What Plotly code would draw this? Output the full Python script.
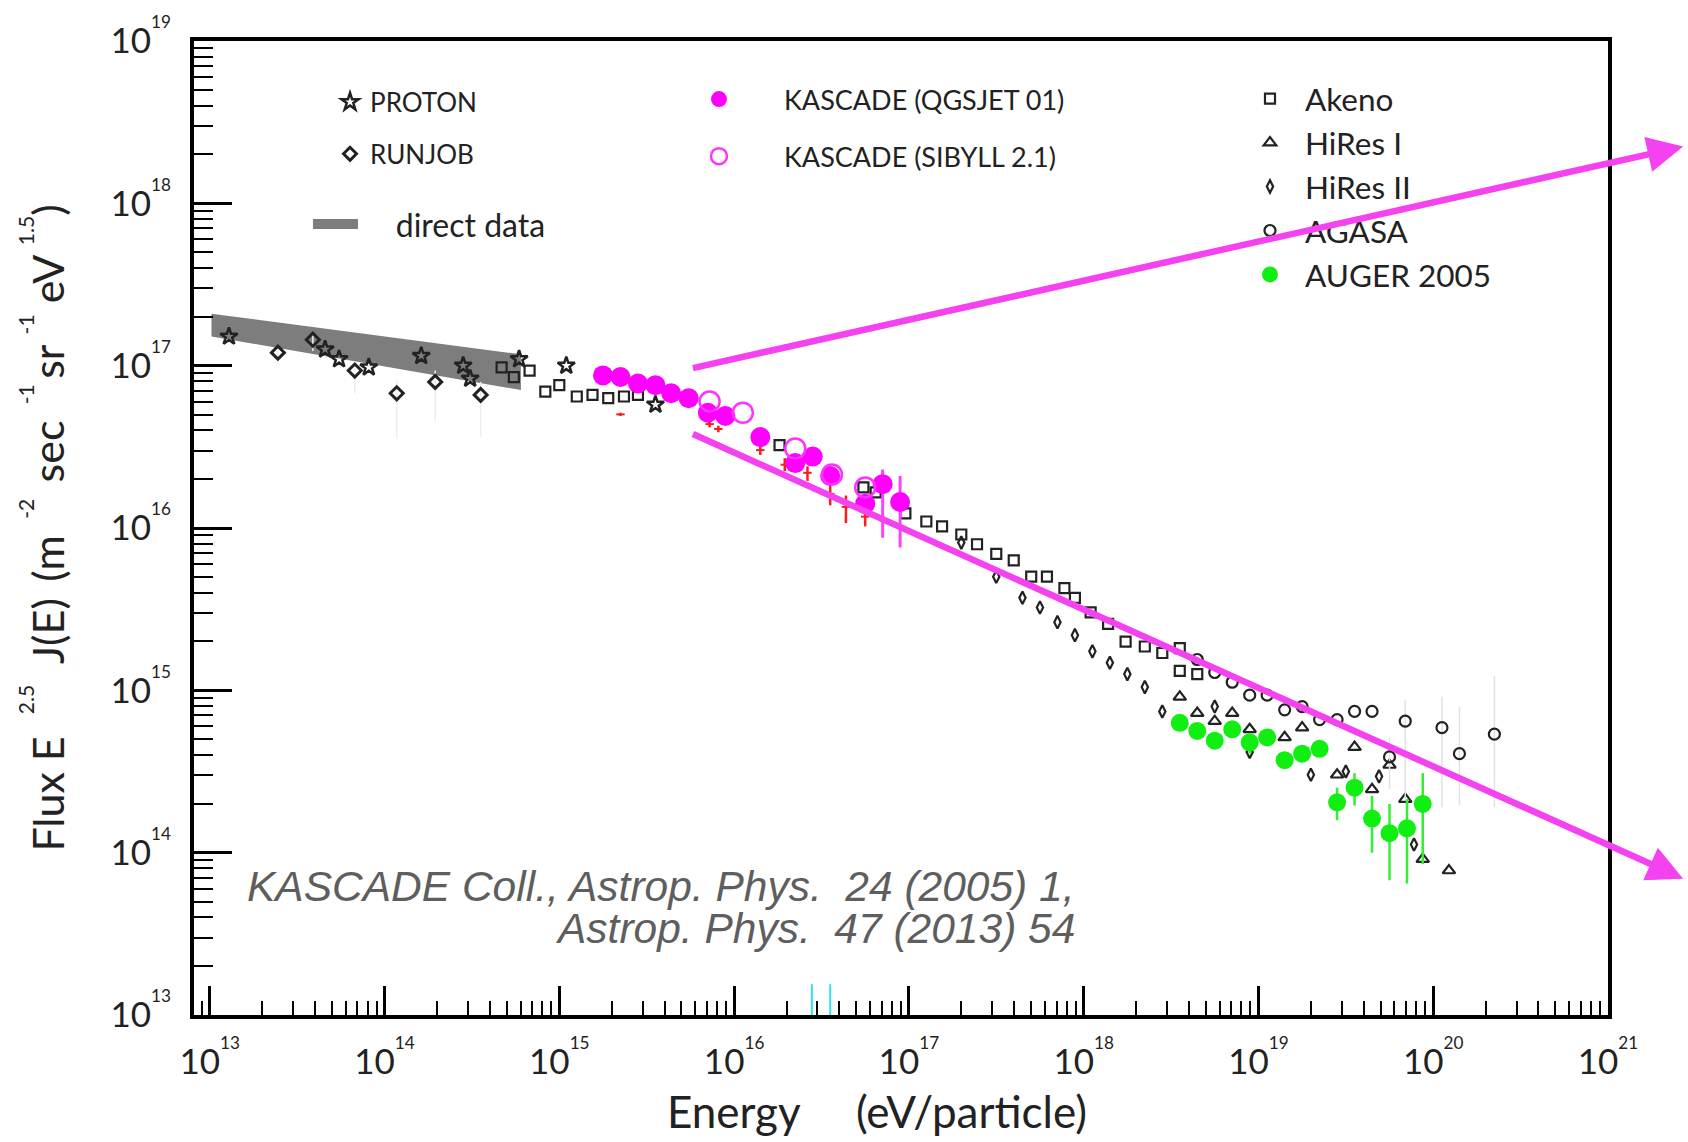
import math
import plotly.graph_objects as go

# ---------------- data (log10 values) ----------------
band_logE = [13.01, 14.78, 14.78, 13.01]
band_logF = [17.32, 17.07, 16.85, 17.18]

proton_logE = [13.11, 13.66, 13.74, 13.91, 14.21, 14.45, 14.49, 14.77, 15.04, 15.55]
proton_logF = [17.18, 17.10, 17.04, 16.99, 17.06, 17.00, 16.92, 17.04, 17.00, 16.76]

runjob_logE = [13.39, 13.59, 13.83, 14.07, 14.29, 14.55]
runjob_logF = [17.08, 17.16, 16.97, 16.83, 16.90, 16.82]
runjob_up = [0.04, 0.04, 0.05, 0.08, 0.07, 0.08]
runjob_dn = [0.07, 0.07, 0.14, 0.28, 0.24, 0.26]

akeno_logE = [14.67, 14.74, 14.83, 14.92, 15.00, 15.10, 15.19, 15.28, 15.37, 15.45,
              16.26, 16.74, 16.81, 16.98, 17.10, 17.19, 17.30, 17.39, 17.50, 17.60,
              17.70, 17.79, 17.89, 17.95, 18.04, 18.14, 18.24, 18.35, 18.45, 18.55,
              18.55, 18.65]
akeno_logF = [16.99, 16.93, 16.97, 16.84, 16.88, 16.81, 16.82, 16.80, 16.81, 16.82,
              16.51, 16.25, 16.22, 16.09, 16.04, 16.01, 15.96, 15.90, 15.84, 15.80,
              15.70, 15.70, 15.63, 15.57, 15.48, 15.41, 15.30, 15.27, 15.23, 15.26,
              15.12, 15.10]

hires2_logE = [17.30, 17.50, 17.65, 17.75, 17.85, 17.95, 18.05, 18.15, 18.25, 18.35,
               18.45, 18.75, 18.95, 19.30, 19.50, 19.69, 19.89]
hires2_logF = [15.91, 15.70, 15.57, 15.51, 15.42, 15.34, 15.24, 15.17, 15.10, 15.02,
               14.87, 14.90, 14.62, 14.48, 14.50, 14.47, 14.05]

hires1_logE = [18.55, 18.65, 18.75, 18.85, 18.95, 19.15, 19.25, 19.45, 19.55, 19.65,
               19.75, 19.84, 19.94, 20.09]
hires1_logF = [14.96, 14.86, 14.81, 14.86, 14.76, 14.71, 14.77, 14.48, 14.65, 14.39,
               14.54, 14.33, 13.96, 13.89]

agasa_logE = [18.65, 18.75, 18.85, 18.95, 19.05, 19.15, 19.25, 19.35, 19.45, 19.55,
              19.65, 19.75, 19.84, 20.05, 20.15, 20.35]
agasa_logF = [15.19, 15.11, 15.05, 14.97, 14.97, 14.88, 14.90, 14.82, 14.82, 14.87,
              14.87, 14.59, 14.81, 14.77, 14.61, 14.73]
agasa_up = [0, 0, 0, 0, 0, 0, 0, 0, 0, 0, 0, 0.12, 0.13, 0.19, 0.29, 0.36]
agasa_dn = [0, 0, 0, 0, 0, 0, 0, 0, 0, 0, 0, 0.20, 0.48, 0.49, 0.32, 0.45]

auger_logE = [18.55, 18.65, 18.75, 18.85, 18.95, 19.05, 19.15, 19.25, 19.35, 19.45,
              19.55, 19.65, 19.75, 19.85, 19.94]
auger_logF = [14.80, 14.75, 14.69, 14.76, 14.68, 14.71, 14.57, 14.61, 14.64, 14.31,
              14.40, 14.21, 14.12, 14.15, 14.30]
auger_up = [0.02, 0.02, 0.02, 0.02, 0.05, 0.02, 0.03, 0.03, 0.03, 0.09, 0.09, 0.14, 0.18, 0.18, 0.19]
auger_dn = [0.02, 0.02, 0.02, 0.02, 0.07, 0.02, 0.03, 0.03, 0.03, 0.11, 0.11, 0.21, 0.29, 0.34, 0.37]

qgs_logE = [15.25, 15.35, 15.45, 15.55, 15.64, 15.74, 15.85, 15.95, 16.15, 16.35,
            16.45, 16.55, 16.75, 16.85, 16.95]
qgs_logF = [16.94, 16.93, 16.89, 16.88, 16.83, 16.80, 16.71, 16.69, 16.56, 16.40,
            16.44, 16.32, 16.15, 16.27, 16.16]
qgs_up = [0, 0, 0, 0, 0, 0, 0, 0, 0.02, 0.03, 0.03, 0.04, 0.05, 0.09, 0.16]
qgs_dn = [0, 0, 0, 0, 0, 0, 0, 0, 0.02, 0.03, 0.03, 0.04, 0.06, 0.33, 0.28]

sib_logE = [15.86, 16.05, 16.35, 16.56, 16.75]
sib_logF = [16.78, 16.71, 16.49, 16.33, 16.25]

red_logE = [15.35, 15.86, 15.91, 16.15, 16.29, 16.42, 16.55, 16.64, 16.75]
red_logF = [16.70, 16.64, 16.61, 16.48, 16.39, 16.34, 16.21, 16.13, 16.07]
red_up = [0.01, 0.02, 0.02, 0.03, 0.04, 0.04, 0.07, 0.07, 0.05]
red_dn = [0.01, 0.02, 0.02, 0.03, 0.04, 0.05, 0.07, 0.10, 0.06]

cyan_logE = [16.445, 16.55]
cyan_logF_top = [13.19, 13.19]

# arrows (tail -> head), log10 coordinates
arrow_tail_logE = [15.756, 15.756]
arrow_tail_logF = [16.983, 16.583]
arrow_head_logE = [21.43, 21.43]
arrow_head_logF = [18.35, 13.84]

x_decades = list(range(13, 22))
y_decades = list(range(13, 20))
x_range_log = [12.91, 21.0]
y_range_log = [13.0, 19.0]

# ---------------- helpers ----------------
def lin(v):
    return [10.0 ** a for a in v]


def err(logF, up, dn):
    plus = [10.0 ** f * (10.0 ** u - 1) for f, u in zip(logF, up)]
    minus = [10.0 ** f * (1 - 10.0 ** (-d)) for f, d in zip(logF, dn)]
    return plus, minus


FONT = "Lato"
DARK = "#222222"

fig = go.Figure()

# direct-data band
fig.add_trace(go.Scatter(
    x=lin(band_logE), y=lin(band_logF), mode="lines", fill="toself",
    fillcolor="#7d7d7d", line=dict(width=0, color="#7d7d7d"),
    showlegend=False, hoverinfo="skip", name="direct data band"))

# legend-only entry for the band
fig.add_trace(go.Scatter(
    x=[None], y=[None], mode="lines", line=dict(color="#7d7d7d", width=18),
    name="\u00a0\u00a0\u00a0\u00a0direct data", legend="legend2"))

p, m = err(runjob_logF, runjob_up, runjob_dn)
fig.add_trace(go.Scatter(
    x=lin(runjob_logE), y=lin(runjob_logF), mode="markers", name="RUNJOB",
    legend="legend", legendgroup="runjob", legendrank=2,
    marker=dict(symbol="diamond-open", size=10, color=DARK, line=dict(width=3, color=DARK)),
    error_y=dict(type="data", array=p, arrayminus=m, color="#eeeeee", thickness=1.5, width=0)))

fig.add_trace(go.Scatter(
    x=lin(proton_logE), y=lin(proton_logF), mode="markers", name="PROTON",
    legend="legend", legendgroup="proton", legendrank=1,
    marker=dict(symbol="star-open", size=13, color=DARK, line=dict(width=2.5, color=DARK))))

fig.add_trace(go.Scatter(
    x=lin(akeno_logE), y=lin(akeno_logF), mode="markers", name="Akeno",
    legend="legend4", legendrank=1,
    marker=dict(symbol="square-open", size=10, color=DARK, line=dict(width=2.2, color=DARK))))

fig.add_trace(go.Scatter(
    x=lin(hires1_logE), y=lin(hires1_logF), mode="markers", name="HiRes I",
    legend="legend4", legendrank=2,
    marker=dict(symbol="triangle-up-open", size=11, color=DARK, line=dict(width=2.2, color=DARK))))

fig.add_trace(go.Scatter(
    x=lin(hires2_logE), y=lin(hires2_logF), mode="markers", name="HiRes II",
    legend="legend4", legendrank=3,
    marker=dict(symbol="diamond-tall-open", size=9, color=DARK, line=dict(width=2.2, color=DARK))))

p, m = err(agasa_logF, agasa_up, agasa_dn)
fig.add_trace(go.Scatter(
    x=lin(agasa_logE), y=lin(agasa_logF), mode="markers", name="AGASA",
    legend="legend4", legendrank=4,
    marker=dict(symbol="circle-open", size=11, color=DARK, line=dict(width=2.2, color=DARK)),
    error_y=dict(type="data", array=p, arrayminus=m, color="#e2e2e2", thickness=1.5, width=0)))

p, m = err(red_logF, red_up, red_dn)
fig.add_trace(go.Scatter(
    x=lin(red_logE), y=lin(red_logF), mode="markers", showlegend=False,
    marker=dict(symbol="line-ew", size=6, color="#ff1a1a", line=dict(width=2, color="#ff1a1a")),
    error_y=dict(type="data", array=p, arrayminus=m, color="#ff1a1a", thickness=2.5, width=0)))

p, m = err(qgs_logF, qgs_up, qgs_dn)
fig.add_trace(go.Scatter(
    x=lin(qgs_logE), y=lin(qgs_logF), mode="markers", name="KASCADE (QGSJET 01)",
    legend="legend3", legendgroup="qgs", legendrank=1,
    marker=dict(symbol="circle", size=20, color="#ff00ff"),
    error_y=dict(type="data", array=p, arrayminus=m, color="#ff40ff", thickness=3, width=0)))

fig.add_trace(go.Scatter(
    x=lin(sib_logE), y=lin(sib_logF), mode="markers", name="KASCADE (SIBYLL 2.1)",
    legend="legend3", legendgroup="sib", legendrank=2,
    marker=dict(symbol="circle-open", size=20, color="#ff33ff", line=dict(width=2.5, color="#ff33ff"))))

p, m = err(auger_logF, auger_up, auger_dn)
fig.add_trace(go.Scatter(
    x=lin(auger_logE), y=lin(auger_logF), mode="markers", name="AUGER 2005",
    legend="legend4", legendrank=5,
    marker=dict(symbol="circle", size=18, color="#11ee11"),
    error_y=dict(type="data", array=p, arrayminus=m, color="#33ee33", thickness=2.5, width=0)))

# cyan marks near the bottom axis
cx, cy = [], []
for e, t in zip(cyan_logE, cyan_logF_top):
    cx += [10.0 ** e, 10.0 ** e, None]
    cy += [10.0 ** y_range_log[0], 10.0 ** t, None]
fig.add_trace(go.Scatter(x=cx, y=cy, mode="lines", line=dict(color="#33e0f0", width=2),
                         showlegend=False, hoverinfo="skip"))

# ---------------- axes ----------------
def sup_label(d):
    return "10<sup><sup>%d</sup></sup>" % d


x_minor = [k * 10.0 ** d for d in range(12, 21) for k in range(2, 10)
           if x_range_log[0] <= d + math.log10(k) <= x_range_log[1]]
y_minor = [k * 10.0 ** d for d in range(13, 19) for k in range(2, 10)]

axis_common = dict(
    type="log", showgrid=False, zeroline=False, showline=True, linecolor="black",
    linewidth=4, mirror=True, ticks="inside", tickcolor="black", tickwidth=2.5,
    tickfont=dict(family=FONT, size=35, color=DARK), automargin=False,
)

NB = "\u00a0"
TH = "\u2009"

fig.update_xaxes(
    **axis_common, range=x_range_log,
    tickvals=[10.0 ** d for d in x_decades], ticktext=[sup_label(d) for d in x_decades],
    ticklen=29, ticklabelstandoff=13,
    minor=dict(tickvals=x_minor, ticks="inside", ticklen=14, tickwidth=2, tickcolor="black"),
)

ytitle = ("Flux E" + NB * 2 + "<sup><sup>2.5</sup></sup>" + NB * 2 + "J(E)" + NB + TH +
          "(m" + NB + TH + "<sup><sup>-2</sup></sup>" + NB + TH + "sec" + NB + TH +
          "<sup><sup>-1</sup></sup>" + TH + "sr" + NB + "<sup><sup>-1</sup></sup>" + NB +
          "eV" + NB + "<sup><sup>1.5</sup></sup>" + ")")

fig.update_yaxes(
    **axis_common, range=y_range_log,
    tickvals=[10.0 ** d for d in y_decades], ticktext=[sup_label(d) for d in y_decades],
    ticklen=38, ticklabelstandoff=12,
    minor=dict(tickvals=y_minor, ticks="inside", ticklen=19, tickwidth=2, tickcolor="black"),
    title=dict(text=ytitle, font=dict(family=FONT, size=43, color=DARK), standoff=33),
)

# ---------------- annotations ----------------
annotations = []
for tx, ty, hx, hy in zip(arrow_tail_logE, arrow_tail_logF, arrow_head_logE, arrow_head_logF):
    annotations.append(dict(
        x=hx, y=hy, xref="x", yref="y", ax=tx, ay=ty, axref="x", ayref="y",
        text="", showarrow=True, arrowhead=2, arrowsize=1.1, arrowwidth=6.5,
        arrowcolor="#f442f0"))

# x-axis title (placed slightly left of centre, as in the original)
annotations.append(dict(
    text="Energy" + NB * 5 + "(eV/particle)",
    xref="paper", yref="paper", x=0.4827, y=-0.0986, xanchor="center", yanchor="middle",
    showarrow=False, font=dict(family=FONT, size=44, color=DARK)))

cite_font = dict(family="Liberation Sans", size=42.5, color="#5e5e5e")
annotations.append(dict(
    text="<i>KASCADE Coll., Astrop. Phys." + NB * 2 + "24 (2005) 1,</i>",
    xref="paper", yref="paper", x=0.6245, y=0.1324, xanchor="right", yanchor="middle",
    showarrow=False, font=cite_font))
annotations.append(dict(
    text="<i>Astrop. Phys." + NB * 2 + "47 (2013) 54</i>",
    xref="paper", yref="paper", x=0.6245, y=0.0893, xanchor="right", yanchor="middle",
    showarrow=False, font=cite_font))

leg_common = dict(bgcolor="rgba(0,0,0,0)", borderwidth=0, xanchor="left", yanchor="top",
                  orientation="v", itemsizing="trace")

fig.update_layout(
    width=1688, height=1142,
    margin=dict(l=194, r=80, t=41, b=127, pad=0, autoexpand=False),
    paper_bgcolor="white", plot_bgcolor="white",
    font=dict(family=FONT, color=DARK),
    annotations=annotations,
    legend=dict(**leg_common, x=0.0962, y=0.9614, itemwidth=30, tracegroupgap=15,
                traceorder="grouped", font=dict(family=FONT, size=26, color=DARK)),
    legend2=dict(**leg_common, x=0.0806, y=0.8401, itemwidth=45,
                 font=dict(family=FONT, size=32, color=DARK)),
    legend3=dict(**leg_common, x=0.3253, y=0.9651, itemwidth=120, tracegroupgap=19,
                 traceorder="grouped", font=dict(family=FONT, size=27, color=DARK)),
    legend4=dict(**leg_common, x=0.7362, y=0.9685, itemwidth=60,
                 font=dict(family=FONT, size=31.5, color=DARK)),
)

fig.write_html("out.html", config={"displayModeBar": False},
               post_script="document.body.style.margin='0';document.body.style.overflow='hidden';")
